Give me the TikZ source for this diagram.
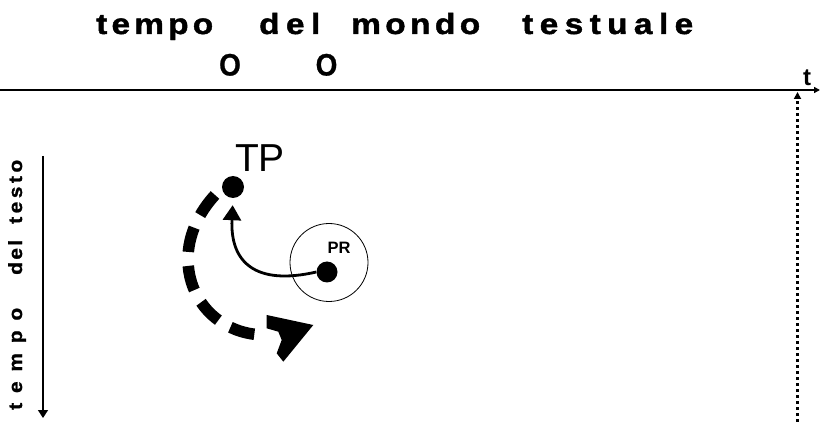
\documentclass[tikz,border=0pt]{standalone}
\usepackage{fontspec}
\setmainfont{Liberation Sans}
\newfontfamily\widefont[FakeStretch=1.15,FakeBold=1.6]{Liberation Sans}
\newfontfamily\sidefont[FakeStretch=1.1,FakeBold=1.2]{Liberation Sans}
\newfontfamily\narrowfont[FakeStretch=0.9,FakeBold=0.8]{Liberation Sans}
\usetikzlibrary{arrows.meta}
\begin{document}
\begin{tikzpicture}[x=1pt,y=-1pt,
  titleword/.style={anchor=base west,inner sep=0pt,font=\widefont\bfseries\fontsize{29pt}{29pt}\selectfont},
  sideword/.style={anchor=base west,inner sep=0pt,rotate=90,font=\sidefont\bfseries\fontsize{19pt}{19pt}\selectfont},
  ticko/.style={anchor=base,inner sep=0pt,font=\narrowfont\bfseries\fontsize{31pt}{31pt}\selectfont},
  dotnode/.style={circle,fill=black,inner sep=0pt,minimum size=#1},
  axisline/.style={line width=1.5pt},
]
\useasboundingbox (0,0) rectangle (820,422);

% title words
\node[titleword] (w1) at (96,34) {\makebox[117pt][s]{t\hfill e\hfill m\hfill p\hfill o}};
\node[titleword] (w2) at (259,34) {\makebox[61pt][s]{d\hfill e\hfill l}};
\node[titleword] (w3) at (351,34) {\makebox[129pt][s]{m\hfill o\hfill n\hfill d\hfill o}};
\node[titleword] (w4) at (522,34) {\makebox[171pt][s]{t\hfill e\hfill s\hfill t\hfill u\hfill a\hfill l\hfill e}};

% O marks
\node[ticko] (o1) at (230,75.5) {O};
\node[ticko] (o2) at (326.5,75.5) {O};

% horizontal axis
\coordinate (hstart) at (0,90);
\coordinate (hend) at (820,90);
\draw[axisline,-{Triangle[length=6pt,width=6pt]}] (hstart) -- (hend);
\node[anchor=base,inner sep=0pt,font=\bfseries\fontsize{24pt}{24pt}\selectfont] (tlab) at (807,86) {t};

% dotted vertical
\coordinate (dbot) at (797.5,422);
\coordinate (dtop) at (797.5,92);
\draw[line width=2.2pt,dash pattern=on 3pt off 3pt,-{Triangle[length=7pt,width=7pt]}] (dbot) -- (dtop);

% left vertical arrow
\coordinate (vtop) at (43,156);
\coordinate (vbot) at (43,418);
\draw[line width=1.4pt,-{Triangle[length=8pt,width=10pt]}] (vtop) -- (vbot);
\node[sideword] (s1) at (22,410) {\makebox[102pt][s]{t\hfill e\hfill m\hfill p\hfill o}};
\node[sideword] (s2) at (22,275) {\makebox[35pt][s]{d\hfill e\hfill l}};
\node[sideword] (s3) at (22,224) {\makebox[64pt][s]{t\hfill e\hfill s\hfill t\hfill o}};

% TP and PR
\node[dotnode=22pt] (TP) at (233,187) {};
\node[anchor=base,inner sep=0pt,font=\fontsize{39pt}{39pt}\selectfont] (TPlab) at (260,172) {TP};
\node[circle,draw,line width=0.8pt,minimum size=78pt,inner sep=0pt] (PRc) at (329,262.5) {};
\node[dotnode=21pt] (PR) at (327,272) {};
\node[anchor=base,inner sep=0pt,font=\bfseries\fontsize{16.5pt}{16.5pt}\selectfont] (PRlab) at (339,253.5) {PR};

% curved arrow PR -> TP
\draw[line width=2.8pt,-{Triangle[length=15pt,width=18pt]},shorten >=7pt]
  (PR.west) .. controls (255,286) and (230,262) .. (TP.south);

% thick dashed arc
\coordinate (dstart) at (215,195);
\coordinate (dend) at (266,335);
\draw[line width=11.5pt,dash pattern=on 25pt off 14pt]
  (dstart) .. controls (160,255) and (195,335) .. (dend);
\fill (266.7,315) -- (313.3,325) -- (283.3,361.7) -- (276.7,353.3) -- (281.7,340) -- (278.3,331.7) -- (266.7,328.3) -- cycle;
\end{tikzpicture}
\end{document}
